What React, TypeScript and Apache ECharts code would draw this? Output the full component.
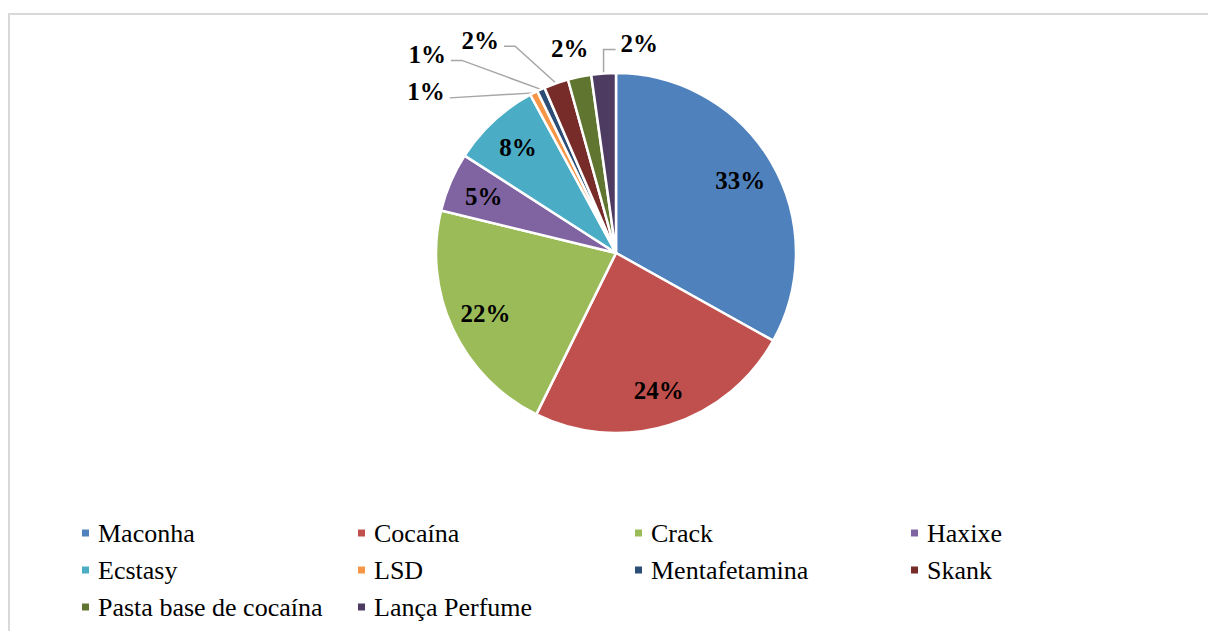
import { useEffect, useRef } from "react";
import * as echarts from "echarts";

// Share of each substance (%)
const categories = [
  "Maconha",
  "Cocaína",
  "Crack",
  "Haxixe",
  "Ecstasy",
  "LSD",
  "Mentafetamina",
  "Skank",
  "Pasta base de cocaína",
  "Lança Perfume",
];
const shares = [33.1, 24.2, 21.5, 5.3, 8.0, 0.7, 0.7, 2.2, 2.1, 2.2];
const sliceColors = [
  "#4F81BD",
  "#C0504D",
  "#9BBB59",
  "#8064A2",
  "#4BACC6",
  "#F79646",
  "#2C4D75",
  "#772C2A",
  "#5F7530",
  "#4D3B62",
];

// Legend laid out as a four-column grid
const legendColumns = [
  ["Maconha", "Ecstasy", "Pasta base de cocaína"],
  ["Cocaína", "LSD", "Lança Perfume"],
  ["Crack", "Mentafetamina"],
  ["Haxixe", "Skank"],
];
const legendColumnLeft = [80, 356, 633, 909];

// Slices whose percentage is printed on the slice itself
const insideLabelled = ["Maconha", "Cocaína", "Crack", "Haxixe", "Ecstasy"];

// Callout geometry for the thin slices: elbow offset from the slice edge,
// horizontal run after the elbow, and which side the text sits on.
type Callout = { knee: [number, number]; run: number; side: 1 | -1; line: boolean };
const callouts: Record<string, Callout> = {
  LSD: { knee: [-84, 5], run: 0, side: -1, line: true },
  Mentafetamina: { knee: [-79, -29], run: -11, side: -1, line: true },
  Skank: { knee: [-41, -37], run: -11, side: -1, line: true },
  "Pasta base de cocaína": { knee: [14, -22], run: 0, side: -1, line: false },
  "Lança Perfume": { knee: [0, -24], run: 12, side: 1, line: true },
};

const SERIF = "Liberation Serif";
const CENTER = [616, 253];
const RADIUS = 180;

export default function App() {
  const ref = useRef<HTMLDivElement>(null);

  useEffect(() => {
    if (!ref.current) return;
    const chart = echarts.init(ref.current, undefined, { renderer: "svg" });

    const pctLabel = (p: any) => `${Math.round(p.value)}%`;
    const labelText = {
      fontFamily: SERIF,
      fontSize: 25,
      fontWeight: "bold" as const,
      color: "#000",
    };

    const pieData = categories.map((name, i) => {
      const inside = insideLabelled.includes(name);
      return {
        name,
        value: shares[i],
        itemStyle: { color: sliceColors[i] },
        label: { show: !inside },
        labelLine: { show: !inside },
      };
    });

    const ringData = categories.map((name, i) => ({
      value: shares[i],
      label: { show: insideLabelled.includes(name) },
    }));

    chart.setOption({
      animation: false,
      backgroundColor: "#fff",
      textStyle: { fontFamily: SERIF },
      graphic: [
        {
          type: "rect",
          silent: true,
          shape: { x: 9, y: 14, width: 1400, height: 800 },
          style: { fill: "none", stroke: "#d9d9d9", lineWidth: 2 },
        },
      ],
      legend: legendColumns.map((names, c) => ({
        orient: "vertical",
        left: legendColumnLeft[c],
        top: 520,
        padding: 0,
        itemGap: 11,
        itemWidth: 9,
        itemHeight: 9,
        icon: "rect",
        selectedMode: false,
        data: names,
        textStyle: {
          fontFamily: SERIF,
          fontSize: 26,
          lineHeight: 26,
          color: "#000",
          padding: [0, 0, 0, 3],
        },
      })),
      series: [
        {
          type: "pie",
          center: CENTER,
          radius: RADIUS,
          startAngle: 90,
          clockwise: true,
          avoidLabelOverlap: false,
          silent: true,
          itemStyle: { borderColor: "#fff", borderWidth: 2.5 },
          label: {
            position: "outside",
            formatter: pctLabel,
            ...labelText,
          },
          labelLine: {
            length: 10,
            length2: 10,
            lineStyle: { color: "#a6a6a6", width: 1.5 },
          },
          labelLayout: (params: any) => {
            const c = callouts[categories[params.dataIndex]];
            const pts = params.labelLinePoints;
            if (!c || !pts || !pts.length) return {};
            const [x0, y0] = pts[0];
            const kx = x0 + c.knee[0];
            const ky = y0 + c.knee[1];
            const ex = kx + c.run;
            return {
              x: ex + c.side * 5,
              y: ky - 6,
              align: c.side < 0 ? "right" : "left",
              verticalAlign: "middle",
              labelLinePoints: c.line
                ? [
                    [x0, y0],
                    [kx, ky],
                    [ex, ky],
                  ]
                : [
                    [x0, y0],
                    [x0, y0],
                  ],
            };
          },
          data: pieData,
        },
        {
          // transparent ring carrying the on-slice percentages
          type: "pie",
          center: CENTER,
          radius: [102, RADIUS],
          startAngle: 90,
          clockwise: true,
          silent: true,
          itemStyle: { color: "transparent", borderWidth: 0 },
          emphasis: { disabled: true },
          label: {
            position: "inside",
            formatter: pctLabel,
            ...labelText,
          },
          labelLine: { show: false },
          data: ringData,
        },
      ],
    });

    return () => chart.dispose();
  }, []);

  return (
    <div
      ref={ref}
      style={{ position: "fixed", left: 0, top: 0, width: 1208, height: 631 }}
    />
  );
}
